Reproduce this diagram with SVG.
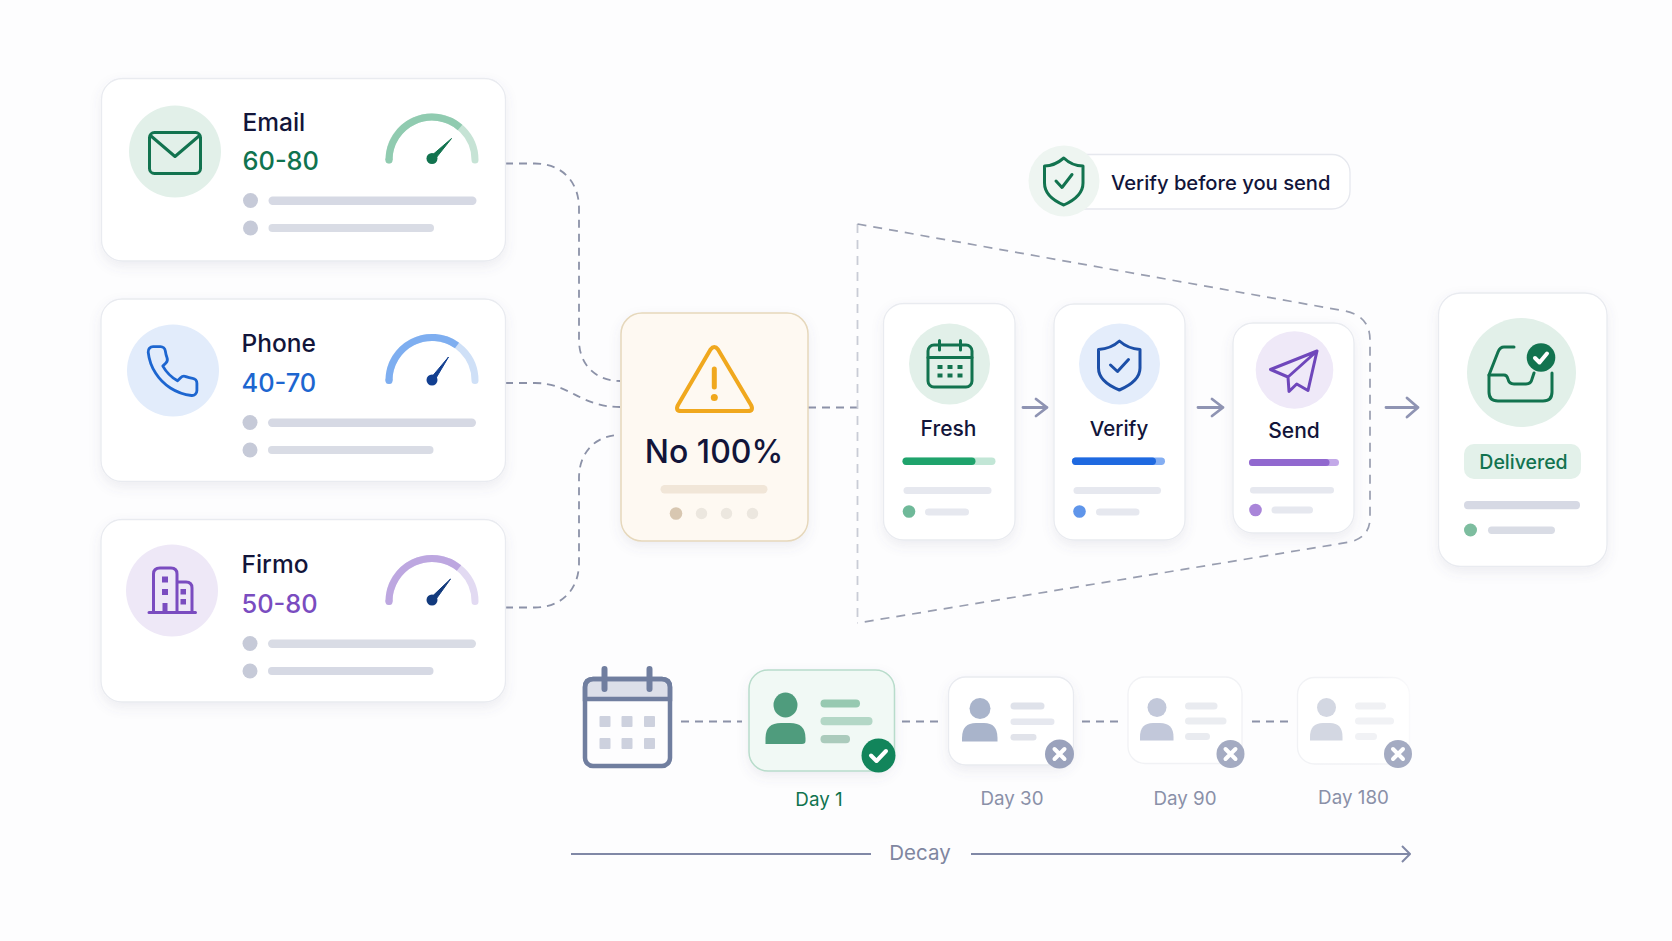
<svg xmlns="http://www.w3.org/2000/svg" width="1672" height="941" viewBox="0 0 1672 941">
<defs>
<style>
text{font-family:Inter,"Liberation Sans",sans-serif;fill:#12153a}
.name{font-size:24.5px;font-weight:500}
.range{font-size:25.400px;font-weight:500}
.step{font-size:21px;font-weight:500;text-anchor:middle}
.day{font-size:18.800px;text-anchor:middle;fill:#8a90a8}
.card{fill:#fff;stroke:#e9ebf0;stroke-width:1.3;filter:url(#sh)}
.b1{fill:#d6d9e4}.b2{fill:#d9dce5}.d{fill:#c6cad8}.g{fill:#e6e8ef}
.i{fill:none;stroke-width:3;stroke-linecap:round;stroke-linejoin:round}
.cn{fill:none;stroke:#8c92a8;stroke-width:1.8;stroke-dasharray:8 6}
.ar{fill:none;stroke:#8f94b3;stroke-width:2.8;stroke-linecap:round;stroke-linejoin:round}
.arc{fill:none;stroke-width:7}
.w{fill:none;stroke:#fff;stroke-width:4;stroke-linecap:round;stroke-linejoin:round}
</style>
<filter id="sh" x="-20%" y="-20%" width="140%" height="150%"><feDropShadow dx="0" dy="5" stdDeviation="6" flood-color="#5a6280" flood-opacity=".1"/></filter>
<linearGradient id="fade" x1="0" y1="0" x2="1" y2="0"><stop offset="0.700" stop-color="#f1f2f5"/><stop offset="1" stop-color="#f9f9fb"/></linearGradient>
</defs>
<rect width="1672" height="941" fill="#fdfdfe"/>
<g id="connectors">
<path class="cn" d="M505,163.500H535C562,163.500 579,182 579,208V340C579,365 596,381 620,381"/>
<path class="cn" d="M505,383H535C570,383 580,407 620,407"/>
<path class="cn" d="M505,607.500H535C562,607.500 579,589 579,563V478C579,452 596,435 620,435"/>
<path class="cn" d="M808,407.500H857"/>
<path class="cn" d="M681,721.500H742M902,721.500H941M1082,721.500H1120M1252,721.500H1290"/>
<path d="M857.500,224V623" fill="none" stroke="#c9ccd6" stroke-width="1.800" stroke-dasharray="9 7"/>
<path d="M857.500,224L1345,311Q1370,316 1370,340V518Q1370,537 1350,542L857.500,623" fill="none" stroke="#999eb0" stroke-width="1.700" stroke-dasharray="9 7"/>
<path class="ar" d="M1023,407.500H1047M1036,399L1047,407.500L1036,416"/>
<path class="ar" d="M1198,407.500H1223M1212,399L1223,407.500L1212,416"/>
<path class="ar" d="M1386,407.500H1418M1407,398L1418,407.500L1407,417"/>
<path d="M571,854H871M971,854H1410M1402,846L1410,854L1402,862" fill="none" stroke="#8088a6" stroke-width="2" stroke-linejoin="round"/>
</g>
<g id="email">
<rect class="card" x="101.500" y="78.500" width="404" height="182.500" rx="21"/>
<circle cx="175" cy="151.500" r="46" fill="#e2f0e9"/>
<g class="i" stroke="#12734f"><rect x="149.500" y="132.500" width="51" height="41" rx="5"/><path d="M151,136L175,156.500L199,136"/></g>
<text class="name" x="242.500" y="131">Email</text>
<text class="range" x="242.500" y="170" style="fill:#10734f">60-80</text>
<path class="arc" stroke="#c6e3d5" stroke-linecap="round" d="M389,160A43,43 0 0 1 475,160"/>
<path class="arc" stroke="#90cbb0" d="M389,160A43,43 0 0 1 460,127.500"/><circle cx="389" cy="160" r="3.500" fill="#90cbb0"/>
<path d="M451.500,138.500L434,160.500L430,157Z" fill="#12734f" stroke="#12734f" stroke-linejoin="round"/><circle cx="432" cy="158.500" r="5.500" fill="#12734f"/>
<circle class="d" cx="250.500" cy="200.500" r="7.500"/><rect class="b1" x="268.500" y="196.500" width="208" height="8.500" rx="4.200"/>
<circle class="d" cx="250.500" cy="228" r="7.500"/><rect class="b2" x="268.500" y="224" width="165.500" height="8" rx="4"/>
</g>
<g id="phone">
<rect class="card" x="101" y="299" width="404.500" height="182.500" rx="21"/>
<circle cx="173" cy="370.500" r="46" fill="#e2ecfb"/>
<path d="M22 16.920v3a2 2 0 0 1-2.180 2 19.790 19.790 0 0 1-8.630-3.070 19.500 19.500 0 0 1-6-6 19.790 19.790 0 0 1-3.070-8.670A2 2 0 0 1 4.110 2h3a2 2 0 0 1 2 1.720 12.840 12.840 0 0 0 .7 2.810 2 2 0 0 1-.45 2.110L8.090 9.910a16 16 0 0 0 6 6l1.270-1.270a2 2 0 0 1 2.110-.45 12.840 12.840 0 0 0 2.810.7A2 2 0 0 1 22 16.920z" transform="translate(143,341.800) scale(2.450)" fill="none" stroke="#1d66d0" stroke-width="1.150" stroke-linejoin="round"/>
<text class="name" x="241.500" y="352">Phone</text>
<text class="range" x="241.500" y="391.500" style="fill:#1d66d0">40-70</text>
<path class="arc" stroke="#cfe0f7" stroke-linecap="round" d="M389,380.500A43,43 0 0 1 475,380.500"/>
<path class="arc" stroke="#7eaef0" d="M389,380.500A43,43 0 0 1 457,345.500"/><circle cx="389" cy="380.500" r="3.500" fill="#7eaef0"/>
<path d="M448.500,357L434,381.500L430,379Z" fill="#123f91" stroke="#123f91" stroke-linejoin="round"/><circle cx="432" cy="380" r="5.500" fill="#123f91"/>
<circle class="d" cx="250" cy="422.500" r="7.500"/><rect class="b1" x="268" y="418.500" width="208" height="8.500" rx="4.200"/>
<circle class="d" cx="250" cy="450" r="7.500"/><rect class="b2" x="268" y="446" width="165.500" height="8" rx="4"/>
</g>
<g id="firmo">
<rect class="card" x="101" y="519.500" width="404.500" height="182.500" rx="21"/>
<circle cx="172" cy="590.500" r="46" fill="#eee8f7"/>
<g class="i" stroke="#7a4cc0"><path d="M149,612.500H195.500M153.500,612.500V574Q153.500,568 160,568H171Q177,568 177,574V612.500M177,582H186Q192,582 192,588V612.500"/></g>
<g fill="#7a4cc0"><rect x="162" y="576.500" width="6" height="6"/><rect x="162" y="589" width="6" height="6"/><rect x="162.500" y="603" width="5" height="9"/><rect x="180.500" y="589" width="5.500" height="5.500"/><rect x="180.500" y="599" width="5.500" height="5.500"/></g>
<text class="name" x="241.500" y="573">Firmo</text>
<text class="range" x="241.500" y="613" style="fill:#7a4cc0">50-80</text>
<path class="arc" stroke="#e2daf2" stroke-linecap="round" d="M389,601.500A43,43 0 0 1 475,601.500"/>
<path class="arc" stroke="#bda7e0" d="M389,601.500A43,43 0 0 1 459,568"/><circle cx="389" cy="601.500" r="3.500" fill="#bda7e0"/>
<path d="M450.500,579L434,602L430,598.500Z" fill="#123a7d" stroke="#123a7d" stroke-linejoin="round"/><circle cx="432" cy="600" r="5.500" fill="#123a7d"/>
<circle class="d" cx="250" cy="643.500" r="7.500"/><rect class="b2" x="268" y="639.500" width="208" height="8.500" rx="4.200"/>
<circle class="d" cx="250" cy="671" r="7.500"/><rect class="b1" x="268" y="667" width="165.500" height="8" rx="4"/>
</g>
<g id="no100">
<rect x="621" y="313" width="187" height="228" rx="21" fill="#fef9f2" stroke="#e6d8bc" stroke-width="1.500" filter="url(#sh)"/>
<path d="M710.500,349.500Q714.300,344.500 718,349.500L751,405Q754,411 748,411H681Q675,411 678,405Z" fill="none" stroke="#f0a81e" stroke-width="4" stroke-linejoin="round"/>
<path d="M714.300,369V387" stroke="#f0a81e" stroke-width="5" stroke-linecap="round"/><circle cx="714.300" cy="397.500" r="3.500" fill="#f0a81e"/>
<text x="714" y="462.500" text-anchor="middle" style="font-size:32px;font-weight:500">No 100%</text>
<rect x="660.500" y="485" width="107" height="8.500" rx="4.200" fill="#f1e6d8"/>
<circle cx="676" cy="513.500" r="6.300" fill="#d8c7b1"/><circle cx="701.500" cy="513.500" r="5.700" fill="#ece7df"/><circle cx="726.500" cy="513.500" r="5.700" fill="#ece7df"/><circle cx="752.500" cy="513.500" r="5.700" fill="#ece7df"/>
</g>
<g id="fresh">
<rect class="card" x="883.500" y="303.500" width="131.500" height="236.500" rx="20"/>
<circle cx="949.500" cy="364" r="40.500" fill="#e2f0e9"/>
<g class="i" stroke="#12734f" stroke-width="2.800"><rect x="928" y="345" width="44" height="42" rx="6"/><path d="M928,357.500H972M939.500,340.500V350M960.500,340.500V350"/></g>
<g fill="#12734f"><rect x="937.500" y="365" width="5" height="4"/><rect x="947.500" y="365" width="5" height="4"/><rect x="957.500" y="365" width="5" height="4"/><rect x="937.500" y="373.500" width="5" height="4"/><rect x="947.500" y="373.500" width="5" height="4"/><rect x="957.500" y="373.500" width="5" height="4"/></g>
<text class="step" x="948.500" y="435.500">Fresh</text>
<rect x="902.500" y="457.500" width="93" height="7.500" rx="3.700" fill="#c2e6d6"/><rect x="902.500" y="457.500" width="73" height="7.500" rx="3.700" fill="#1fa36c"/>
<rect class="g" x="903.500" y="487" width="88" height="7" rx="3.500"/>
<circle cx="909" cy="511.500" r="6.300" fill="#6fb999"/><rect class="g" x="925" y="508.500" width="44" height="7" rx="3.500"/>
</g>
<g id="verify">
<rect class="card" x="1054" y="304" width="131" height="236" rx="20"/>
<circle cx="1119.500" cy="364" r="40.500" fill="#e4edfb"/>
<g class="i" stroke="#1c4fa8" stroke-width="2.800"><path d="M1119.400,341C1125,346 1133,349 1140,349.500V368C1140,378 1131,385 1119.400,390C1107,385 1098.500,378 1098.500,368V349.500C1106,349 1114,346 1119.400,341Z"/><path d="M1110.500,365L1117.500,371.500L1128.500,359.500"/></g>
<text class="step" x="1119" y="435.500" style="font-size:20.500px">Verify</text>
<rect x="1072" y="457.500" width="93" height="7.500" rx="3.700" fill="#84aef2"/><rect x="1072" y="457.500" width="84" height="7.500" rx="3.700" fill="#1f69e0"/>
<rect class="g" x="1073.500" y="487" width="87.500" height="7" rx="3.500"/>
<circle cx="1079.500" cy="511.500" r="6.300" fill="#5f95ea"/><rect class="g" x="1096" y="508.500" width="43.500" height="7" rx="3.500"/>
</g>
<g id="send">
<rect class="card" x="1233" y="323" width="121" height="210" rx="20"/>
<circle cx="1294.500" cy="370" r="38.800" fill="#efe9f8"/>
<g class="i" stroke="#6f47bb" stroke-width="2.600"><path d="M1317,351L1270.500,369.500L1288,377L1289,391.500L1296.700,384L1308,390.500ZM1317,351L1288,377"/></g>
<text class="step" x="1294" y="437.500">Send</text>
<rect x="1249" y="459" width="90" height="7" rx="3.500" fill="#c3a9e8"/><rect x="1249" y="459" width="80.500" height="7" rx="3.500" fill="#9168cf"/>
<rect class="g" x="1250" y="487" width="84" height="6.500" rx="3.200"/>
<circle cx="1255.500" cy="510" r="6.300" fill="#a985d9"/><rect class="g" x="1271.500" y="506.500" width="41.500" height="7" rx="3.500"/>
</g>
<g id="delivered">
<rect class="card" x="1438.500" y="293" width="168.500" height="273.500" rx="22"/>
<circle cx="1521.500" cy="372.500" r="54.500" fill="#e2f0e9"/>
<g class="i" stroke="#12734f" stroke-width="3.300"><path d="M1514,347H1504Q1500,347 1498,352L1489,375V392Q1489,401 1498,401H1543Q1552,401 1552,392V373"/><path d="M1489,375H1504Q1507,375 1508,379Q1509,384 1514,384H1526Q1531,384 1532,379L1534,373"/></g>
<circle cx="1541" cy="357.500" r="14.300" fill="#12734f"/><path class="w" d="M1535,358L1539.500,362.500L1547,353.500" stroke-width="3.200"/>
<rect x="1464" y="444" width="117" height="35" rx="10" fill="#e3f1ea"/>
<text x="1523.500" y="468.500" text-anchor="middle" style="font-size:19.500px;font-weight:500;fill:#12734f">Delivered</text>
<rect class="b1" x="1464" y="501" width="116" height="8.300" rx="4"/>
<circle cx="1470.500" cy="530" r="6.500" fill="#7dbd9f"/><rect class="b2" x="1488" y="526.500" width="67" height="7.500" rx="3.700"/>
</g>
<g id="verify-note">
<rect x="1064" y="154.500" width="286" height="54.500" rx="18" fill="#fff" stroke="#e6e8ee" stroke-width="1.300"/>
<circle cx="1064" cy="181" r="35.500" fill="#eef5f1"/>
<g class="i" stroke="#12734f" stroke-width="2.800"><path d="M1063.800,158C1069,163 1076,166 1083,166V183C1083,193 1075,200 1063.800,205C1052,200 1044.500,193 1044.500,183V166C1051,166 1058,163 1063.800,158Z"/><path d="M1056,181L1062,187.500L1072,174.500"/></g>
<text x="1111" y="189.500" style="font-size:20.200px;font-weight:500">Verify before you send</text>
</g>
<g id="calendar">
<g fill="none" stroke="#707e9f" stroke-width="4.500" stroke-linecap="round">
<path d="M585,699V687Q585,679 593,679H662Q670,679 670,687V699Z" fill="#dcdfe9"/>
<rect x="585" y="679" width="85" height="87" rx="8"/>
<path d="M604.500,669V689M649.500,669V689" stroke-width="6"/></g>
<g fill="#cdd1de"><rect x="599.500" y="716" width="11" height="11" rx="1"/><rect x="621.500" y="716" width="11" height="11" rx="1"/><rect x="644" y="716" width="11" height="11" rx="1"/><rect x="599.500" y="738" width="11" height="11" rx="1"/><rect x="621.500" y="738" width="11" height="11" rx="1"/><rect x="644" y="738" width="11" height="11" rx="1"/></g>
</g>
<g id="day1">
<rect x="749" y="670" width="145.500" height="101" rx="19" fill="#f1f9f5" stroke="#b8dccb" stroke-width="1.500" filter="url(#sh)"/>
<g fill="#4f9c7d"><ellipse cx="785.500" cy="705" rx="12" ry="12.500"/><path d="M765.500,744V738Q765.500,723 781,723H790Q805.500,723 805.500,738V741Q805.500,744 802,744Z"/></g>
<rect x="820.500" y="699.500" width="39.500" height="8" rx="4" fill="#97c9b1"/><rect x="820.500" y="717" width="52" height="8.300" rx="4" fill="#b3d7c6"/><rect x="820.500" y="735" width="29.500" height="8.300" rx="4" fill="#abcbbc"/>
<circle cx="878.500" cy="755.500" r="17" fill="#12855b"/><path class="w" d="M871,755.500L876.500,761L886,751"/>
<text class="day" x="819" y="806" style="fill:#10734f">Day 1</text>
</g>
<g id="day30">
<rect class="card" x="948.500" y="677" width="125" height="88" rx="17"/>
<g fill="#a9b4cb"><circle cx="980" cy="708.500" r="10.500"/><path d="M962,741.500V738Q962,723 976,723H984Q997.500,723 997.500,738V741.500Z"/></g>
<rect x="1010.500" y="702.500" width="34" height="7" rx="3.500" fill="#dfe2ea"/><rect x="1010.500" y="718.500" width="44" height="6.500" rx="3.200" fill="#e6e8ef"/><rect x="1010.500" y="734" width="26" height="6.500" rx="3.200" fill="#e1e3ea"/>
<circle cx="1059.500" cy="754" r="14.500" fill="#9aa2bc"/><path class="w" d="M1054.500,749L1064.500,759M1064.500,749L1054.500,759"/>
<text class="day" x="1012" y="805">Day 30</text>
</g>
<g id="day90">
<rect x="1128" y="677" width="114" height="86.500" rx="17" fill="#fff" stroke="#f1f2f5" stroke-width="1.300"/>
<g fill="#c2c8da"><circle cx="1157" cy="707.500" r="9.500"/><path d="M1140,740.500V737Q1140,723 1153,723H1160Q1173.500,723 1173.500,737V740.500Z"/></g>
<rect x="1185" y="702.500" width="32.500" height="7" rx="3.500" fill="#e9ebf0"/><rect x="1185" y="717.500" width="41.500" height="7" rx="3.500" fill="#ebedf1"/><rect x="1185" y="733" width="25" height="7" rx="3.500" fill="#e9ebf0"/>
<circle cx="1230.500" cy="754" r="14" fill="#a4abc2"/><path class="w" d="M1225.500,749L1235.500,759M1235.500,749L1225.500,759"/>
<text class="day" x="1185" y="804.500">Day 90</text>
</g>
<g id="day180">
<rect x="1297.500" y="677.500" width="112" height="86.500" rx="17" fill="#fff" stroke="url(#fade)" stroke-width="1.300"/>
<g fill="#d3d7e2"><circle cx="1326.500" cy="707.500" r="9.500"/><path d="M1310,740.500V737Q1310,723 1323,723H1330Q1342.500,723 1342.500,737V740.500Z"/></g>
<rect x="1355" y="702.500" width="31" height="7" rx="3.500" fill="#f0f1f4"/><rect x="1355" y="717.500" width="39" height="7" rx="3.500" fill="#f1f2f5"/><rect x="1355" y="733" width="22" height="7" rx="3.500" fill="#f1f2f5"/>
<circle cx="1398" cy="754" r="14" fill="#a4abc2"/><path class="w" d="M1393,749L1403,759M1403,749L1393,759"/>
<text class="day" x="1353.500" y="803.500">Day 180</text>
</g>
<text id="decay" x="920" y="859.500" text-anchor="middle" style="font-size:20.500px;fill:#7f86a0">Decay</text>
</svg>
